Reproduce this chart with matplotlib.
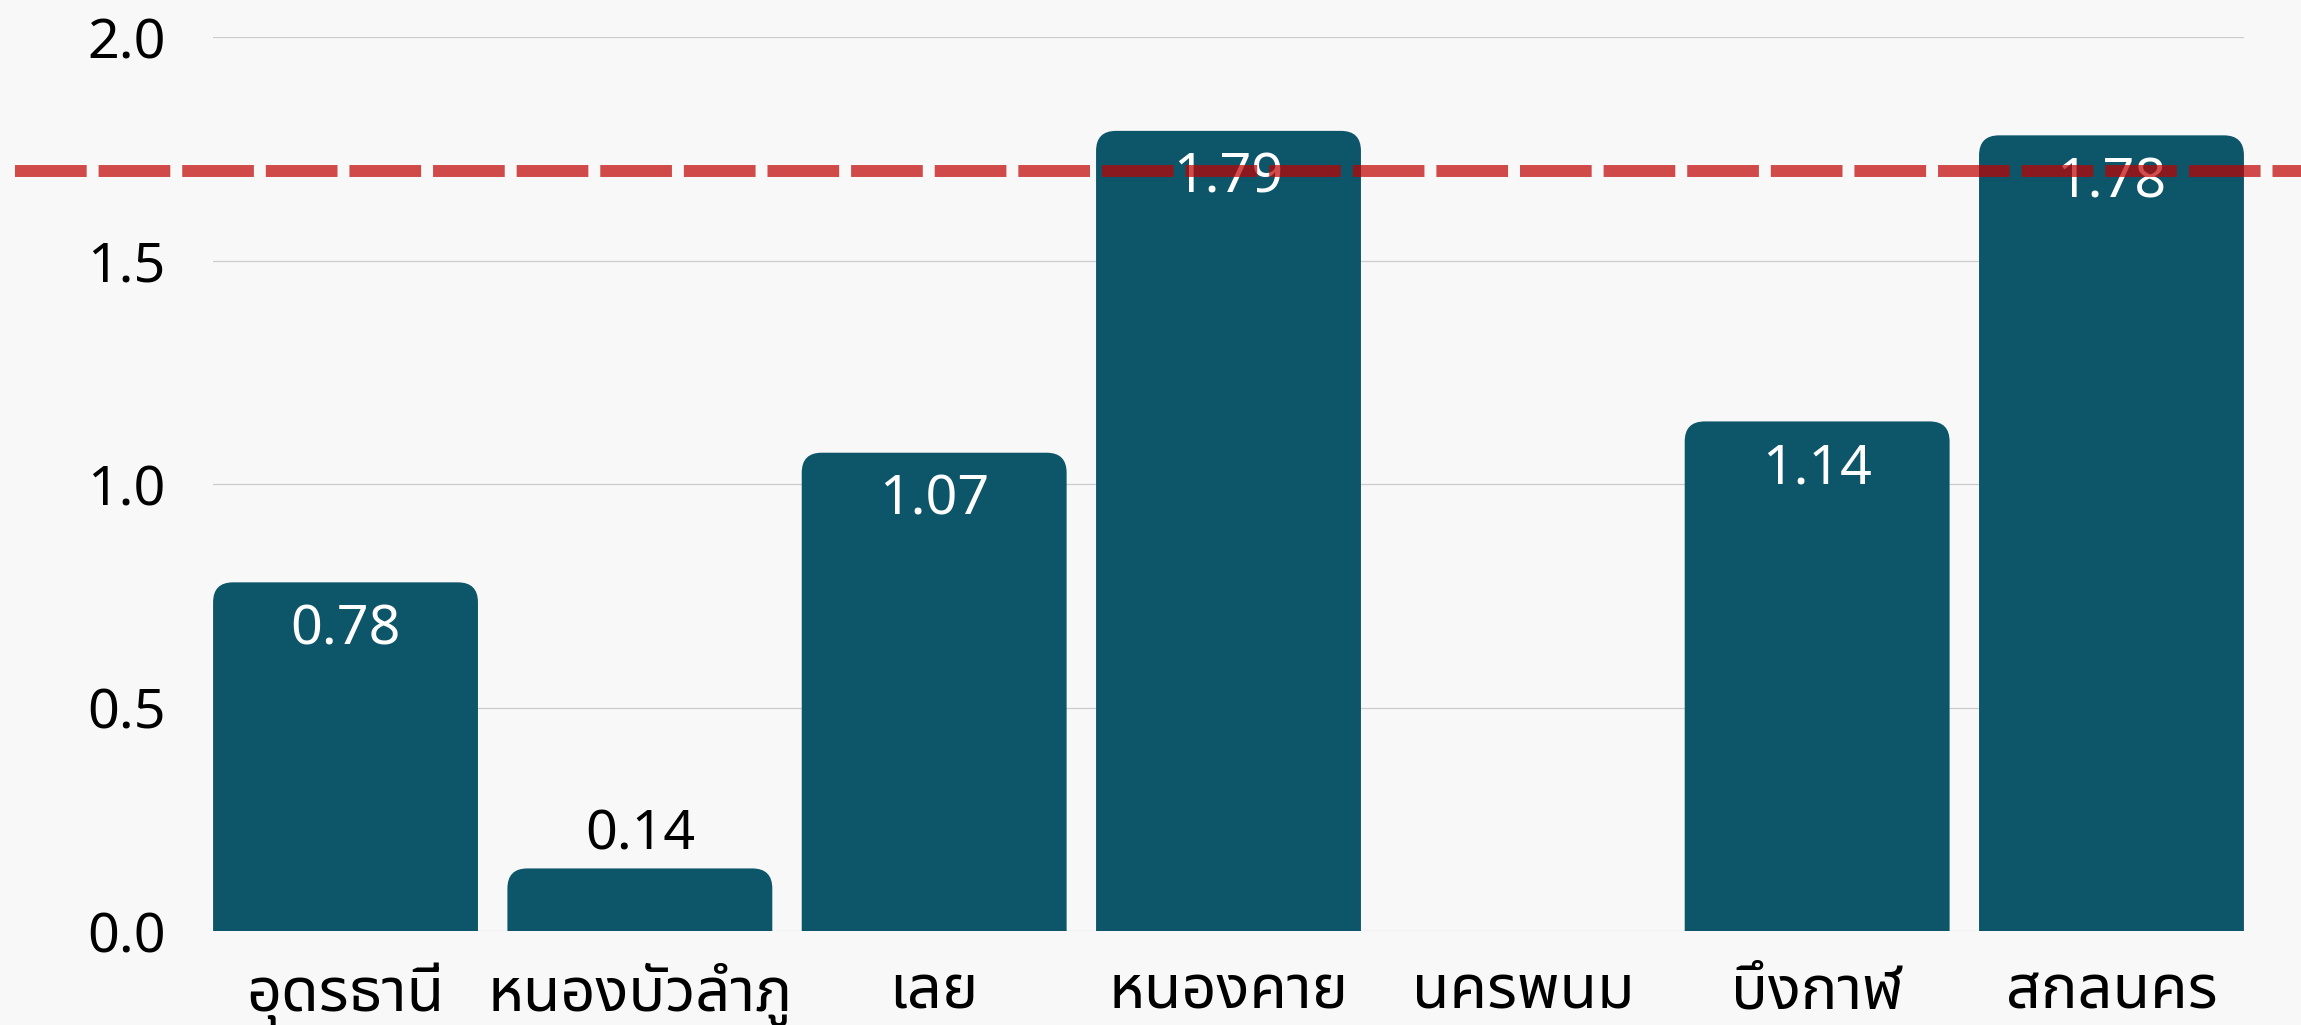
import numpy as np
import matplotlib
matplotlib.use("Agg")
import matplotlib.pyplot as plt
from matplotlib.patches import PathPatch
from matplotlib.path import Path
from matplotlib.transforms import blended_transform_factory

plt.rcParams['font.family'] = ['Noto Sans Thai', 'DejaVu Sans']

provinces = ['อุดรธานี', 'หนองบัวลำภู', 'เลย', 'หนองคาย', 'นครพนม', 'บึงกาฬ', 'สกลนคร']
values = [0.78, 0.14, 1.07, 1.79, 0.0, 1.14, 1.78]
target = 1.7
yticks = [0.0, 0.5, 1.0, 1.5, 2.0]

bar_color = '#0d5669'
bg = '#f8f8f8'

fig = plt.figure(figsize=(23.01, 10.25), dpi=100, facecolor=bg)
ax = fig.add_axes([0.0926, 0.0917, 0.8826, 0.8722], facecolor=bg)

x = np.arange(len(provinces))
bars = ax.bar(x, values, width=0.9, color=bar_color, zorder=2)
ax.set_xlim(-0.45, len(provinces) - 0.55)
ax.set_ylim(0, 2.0)

# rounded top corners (~20px), radius converted to data units on each axis
bb = ax.get_window_extent()
rx = 20 / (bb.width / (len(provinces) - 0.1))
ry = 20 / (bb.height / 2.0)
for b in bars:
    h = b.get_height()
    b.remove()
    if h <= 0:
        continue
    x0, w = b.get_x(), b.get_width()
    x1 = x0 + w
    verts = [(x0, 0), (x0, h - ry), (x0, h), (x0 + rx, h), (x1 - rx, h),
             (x1, h), (x1, h - ry), (x1, 0), (x0, 0)]
    codes = [Path.MOVETO, Path.LINETO, Path.CURVE3, Path.CURVE3, Path.LINETO,
             Path.CURVE3, Path.CURVE3, Path.LINETO, Path.CLOSEPOLY]
    ax.add_patch(PathPatch(Path(verts, codes), fc=bar_color, ec='none', zorder=2))

    if h < 0.3:
        ax.annotate(f"{h:.2f}", (x0 + w / 2, h), xytext=(0, 24), textcoords='offset points',
                    ha='center', va='center', fontsize=40, color='black', zorder=3)
    else:
        ax.annotate(f"{h:.2f}", (x0 + w / 2, h), xytext=(0, -34), textcoords='offset points',
                    ha='center', va='center', fontsize=40, color='white', zorder=3)

# target line runs across the whole figure width
tr = blended_transform_factory(fig.transFigure, ax.transData)
ax.plot([0.0065, 1.0], [target, target], transform=tr, color='#bf0000', alpha=0.7,
        lw=8.6, dashes=(6, 1), solid_capstyle='butt', dash_capstyle='butt',
        clip_on=False, zorder=5)

ax.set_yticks(yticks)
ax.set_yticklabels([f"{t:.1f}" for t in yticks])
ax.set_xticks(x)
ax.set_xticklabels(provinces)
ax.tick_params(axis='y', length=0, pad=34, labelsize=40)
ax.tick_params(axis='x', length=0, pad=23, labelsize=44)
ax.grid(axis='y', color='#cccccc', lw=0.9, zorder=0)
ax.set_axisbelow(True)
for s in ax.spines.values():
    s.set_visible(False)

fig.savefig("out.png", facecolor=bg)
